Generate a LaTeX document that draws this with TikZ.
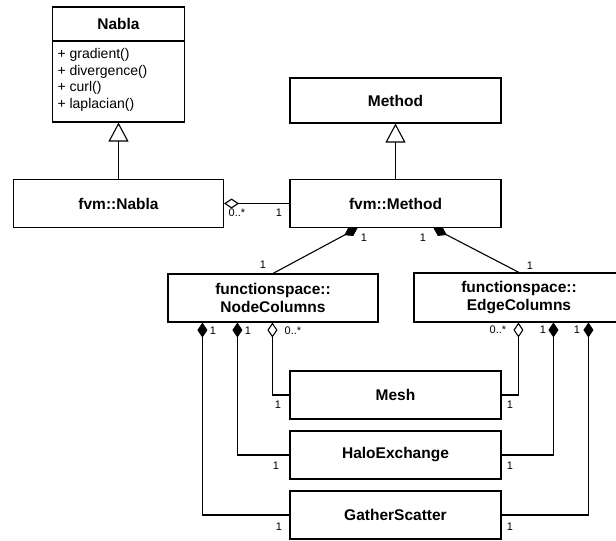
\documentclass[tikz,border=0pt]{standalone}
\usepackage{fontspec}
\setmainfont{Liberation Sans}
\usetikzlibrary{arrows.meta}
\begin{document}
\begin{tikzpicture}[x=1pt,y=-1pt,
  line width=1.1pt,
  cls/.style={draw, rectangle, inner sep=0pt, align=center,
    font=\fontsize{15.5}{18.5}\selectfont\bfseries},
  lbl/.style={inner sep=0pt, font=\fontsize{11}{13}\selectfont},
  mem/.style={inner sep=0pt, anchor=west, font=\fontsize{14}{16}\selectfont},
  inherit/.style={-{Triangle[open,length=19pt,width=20pt]}},
  compo/.style={-{Diamond[length=15pt,width=10pt]}},
  aggr/.style={-{Diamond[open,length=15pt,width=10pt]}},
]
\useasboundingbox (0,0) rectangle (616,541);
\clip (0,0) rectangle (616,541);

% Nabla class with its operations
\node[cls, minimum width=132pt, minimum height=115pt] (nabla) at (118.5,64.5) {};
\node[inner sep=0pt, font=\fontsize{15.5}{18.5}\selectfont\bfseries] (nablaname) at (118.5,24) {Nabla};
\draw (nabla.west |- 0,41) -- (nabla.east |- 0,41);
\node[mem] (op1) at (57,55) {+ gradient()};
\node[mem] (op2) at (57,71.5) {+ divergence()};
\node[mem] (op3) at (57,88) {+ curl()};
\node[mem] (op4) at (57,104.5) {+ laplacian()};

% classes
\node[cls, minimum width=210pt, minimum height=48pt] (fnabla) at (118.5,203.5) {fvm::Nabla};
\node[cls, minimum width=211pt, minimum height=45pt] (method) at (395.5,100.5) {Method};
\node[cls, minimum width=211pt, minimum height=48pt] (fmethod) at (395.5,203.5) {fvm::Method};
\node[cls, minimum width=210pt, minimum height=48pt] (nc) at (273,298) {functionspace::\\NodeColumns};
\node[cls, minimum width=210pt, minimum height=49pt] (ec) at (519,297.5) {functionspace::\\EdgeColumns};
\node[cls, minimum width=211pt, minimum height=48pt] (mesh) at (395.5,395) {Mesh};
\node[cls, minimum width=211pt, minimum height=48pt] (halo) at (395.5,455) {HaloExchange};
\node[cls, minimum width=211pt, minimum height=48pt] (gs) at (395.5,515) {GatherScatter};

% generalisations
\draw[inherit] (fnabla.north) -- (nabla.south);
\draw[inherit] (fmethod.north) -- (method.south);

% associations
\draw[aggr] (fmethod.west) -- (fnabla.east);
\draw[compo] (nc.north) -- ([xshift=-38pt]fmethod.south);
\draw[compo] (ec.north) -- ([xshift=38pt]fmethod.south);
\draw[aggr] (mesh.west) -| ([xshift=105pt]nc.south west);
\draw[compo] (halo.west) -| ([xshift=70pt]nc.south west);
\draw[compo] (gs.west) -| ([xshift=35pt]nc.south west);
\draw[aggr] (mesh.east) -| ([xshift=105pt]ec.south west);
\draw[compo] (halo.east) -| ([xshift=140pt]ec.south west);
\draw[compo] (gs.east) -| ([xshift=175pt]ec.south west);

% multiplicities
\node[lbl] (mA) at (237,213) {0..*};
\node[lbl] (mB) at (279,213) {1};
\node[lbl] (mC) at (364,238) {1};
\node[lbl] (mD) at (263,265) {1};
\node[lbl] (mE) at (423,238) {1};
\node[lbl] (mF) at (530,266) {1};
\node[lbl] (mG) at (213,331) {1};
\node[lbl] (mH) at (248,331) {1};
\node[lbl] (mI) at (293,331) {0..*};
\node[lbl] (mJ) at (498,330) {0..*};
\node[lbl] (mK) at (543,330) {1};
\node[lbl] (mL) at (577,330) {1};
\node[lbl] (mM) at (278,405) {1};
\node[lbl] (mN) at (510,405) {1};
\node[lbl] (mO) at (276,466) {1};
\node[lbl] (mP) at (510,466) {1};
\node[lbl] (mQ) at (279,527) {1};
\node[lbl] (mR) at (510,527) {1};
\end{tikzpicture}
\end{document}
